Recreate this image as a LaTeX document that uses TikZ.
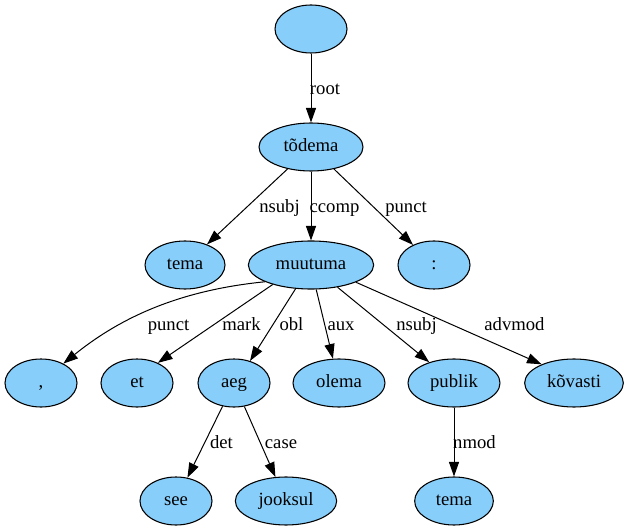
\documentclass[tikz,border=0pt]{standalone}
\usepackage{fontspec}
\setmainfont{Liberation Serif}
\usetikzlibrary{shapes.geometric,arrows.meta}
\definecolor{tokfill}{RGB}{135,206,250}
\begin{document}
\begin{tikzpicture}[x=0.75pt,y=-0.75pt,
  tok/.style={ellipse,draw=black,fill=tokfill,line width=0.8pt,inner sep=0pt,
    minimum height=36pt,minimum width=#1,text height=9.5pt,text depth=3pt,
    font=\fontsize{14pt}{16pt}\selectfont},
  tok/.default=54pt,
  dep/.style={draw=black,line width=0.75pt,-{Triangle[length=11pt,width=7.6pt]}},
  lab/.style={font=\fontsize{14pt}{16pt}\selectfont,inner sep=0pt,text height=9.5pt,text depth=3pt}]
\useasboundingbox (0,0) rectangle (629,531);

% tokens
\node[tok] (r) at (311,29) {};
\node[tok=78pt] (t) at (311,147) {tõdema};
\node[tok=60pt] (te) at (185,265) {tema};
\node[tok=94pt] (mu) at (311,265) {muutuma};
\node[tok] (co) at (434,265) {:};
\node[tok] (cm) at (41,383) {,};
\node[tok] (et) at (137,383) {et};
\node[tok] (ae) at (234,383) {aeg};
\node[tok=69pt] (ol) at (339,383) {olema};
\node[tok=69pt] (pu) at (454,383) {publik};
\node[tok=74pt] (kv) at (574,383) {kõvasti};
\node[tok] (se) at (176,501) {see};
\node[tok=76pt] (jo) at (286,501) {jooksul};
\node[tok=59pt] (te2) at (454,501) {tema};

% dependencies
\draw[dep] (r) -- (t);
\draw[dep] (t) -- (te);
\draw[dep] (t) -- (mu);
\draw[dep] (t) -- (co);
\draw[dep] (mu.200) .. controls (172,291) and (115,322) .. (cm.41);
\draw[dep] (mu.207) -- (et.44);
\draw[dep] (mu.237) -- (ae.54);
\draw[dep] (mu.282) -- (ol.104);
\draw[dep] (mu.320) -- (pu.140);
\draw[dep] (mu.339) -- (kv.150);
\draw[dep] (ae) -- (se);
\draw[dep] (ae) -- (jo);
\draw[dep] (pu) -- (te2);

% relation labels
\node[lab] (l1) at (325,90) {root};
\node[lab] (l2) at (279.5,208) {nsubj};
\node[lab] (l3) at (334.5,208) {ccomp};
\node[lab] (l4) at (406,208) {punct};
\node[lab] (l5) at (168.5,326) {punct};
\node[lab] (l6) at (241.5,326) {mark};
\node[lab] (l7) at (291.5,326) {obl};
\node[lab] (l8) at (341,326) {aux};
\node[lab] (l9) at (416.5,326) {nsubj};
\node[lab] (l10) at (514.5,326) {advmod};
\node[lab] (l11) at (221.5,444) {det};
\node[lab] (l12) at (281,444) {case};
\node[lab] (l13) at (474.5,444) {nmod};
\end{tikzpicture}
\end{document}
